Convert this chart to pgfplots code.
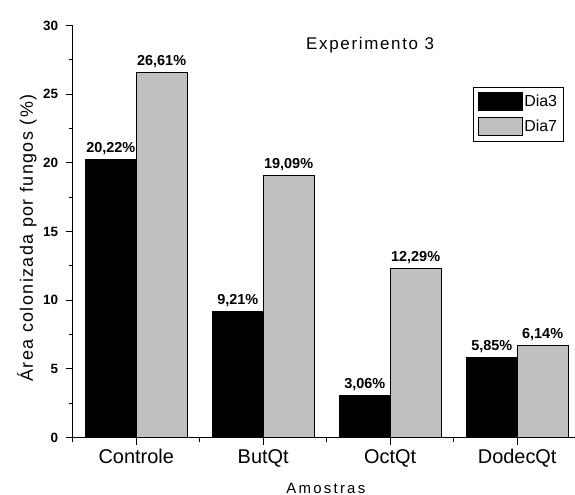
\documentclass[border=0pt]{standalone}
\usepackage{fontspec}
\setmainfont{Liberation Sans}
\usepackage{pgfplots}
\pgfplotsset{compat=1.18}
\definecolor{bargray}{RGB}{192,192,192}
% Dia3 bars sit at category - 0.2, Dia7 bars at category + 0.2
\pgfplotstableread{
x y m
-0.2 20.22 20.22
0.8 9.21 9.21
1.8 3.06 3.06
2.8 5.85 5.85
}\diatres
\pgfplotstableread{
x y m
0.2 26.61 26.61
1.2 19.09 19.09
2.2 12.29 12.29
3.2 6.70 6.14
}\diasete
\begin{document}
\begin{tikzpicture}
\useasboundingbox (0,0) rectangle (575bp,495bp);
\begin{axis}[
  at={(72.7bp,57.3bp)}, anchor=south west,
  scale only axis, width=502.3bp, height=412.2bp,
  xmin=-0.5, xmax=3.455, ymin=0, ymax=30,
  axis x line*=bottom, axis y line*=left,
  axis line style={line width=1.2bp, -},
  xtick={0,1,2,3}, xticklabels={Controle,ButQt,OctQt,DodecQt},
  minor xtick={-0.5,0.5,1.5,2.5},
  ytick={0,5,...,30}, minor ytick={2.5,7.5,...,27.5},
  tick align=outside,
  major tick length=7bp, minor tick length=4bp,
  every tick/.style={line width=1bp, black},
  xticklabel style={font=\fontsize{20}{20}\selectfont, yshift=-1bp},
  yticklabel style={font=\bfseries\fontsize{13.5}{13.5}\selectfont, xshift=-4bp},
  /pgf/number format/assume math mode=true,
  xlabel={\addfontfeature{LetterSpace=15}Amostras},
  xlabel style={font=\fontsize{15}{15}\selectfont, at={(axis description cs:0.504,-0.122)}, anchor=center},
  ylabel={\addfontfeature{LetterSpace=8}Área colonizada por fungos (\%)},
  ylabel style={font=\fontsize{18}{18}\selectfont, at={(axis description cs:-0.091,0.4845)}, anchor=center},
  legend style={at={(rel axis cs:0.797,0.851)}, anchor=north west, draw=black, line width=1bp,
    inner xsep=4bp, inner ysep=5bp, font=\fontsize{16}{16}\selectfont, row sep=6bp,
    nodes={inner sep=2bp},
    legend cell align=left, fill=white},
  nodes near coords style={font=\bfseries\fontsize{14.5}{14.5}\selectfont, anchor=south, yshift=1bp, black},
  clip=false,
]
\addplot[ybar, bar width=0.4, bar shift=0, fill=black, draw=black, line width=1bp,
  point meta=explicit,
  nodes near coords={\pgfmathprintnumber[fixed,fixed zerofill,precision=2,use comma]{\pgfplotspointmeta}\%},
  legend image code/.code={\draw[fill=black, draw=black, line width=0.8bp] (0bp,-9bp) rectangle (44bp,9bp);}]
  table[x=x, y=y, meta=m] {\diatres};
\addlegendentry{Dia3}
\addplot[ybar, bar width=0.4, bar shift=0, fill=bargray, draw=black, line width=1bp,
  point meta=explicit,
  nodes near coords={\pgfmathprintnumber[fixed,fixed zerofill,precision=2,use comma]{\pgfplotspointmeta}\%},
  legend image code/.code={\draw[fill=bargray, draw=black, line width=0.8bp] (0bp,-9bp) rectangle (44bp,9bp);}]
  table[x=x, y=y, meta=m] {\diasete};
\addlegendentry{Dia7}
\node[font=\fontsize{17}{17}\selectfont, anchor=center] at (rel axis cs:0.592,0.953) {\addfontfeature{LetterSpace=10}Experimento 3};
\end{axis}
\end{tikzpicture}
\end{document}
